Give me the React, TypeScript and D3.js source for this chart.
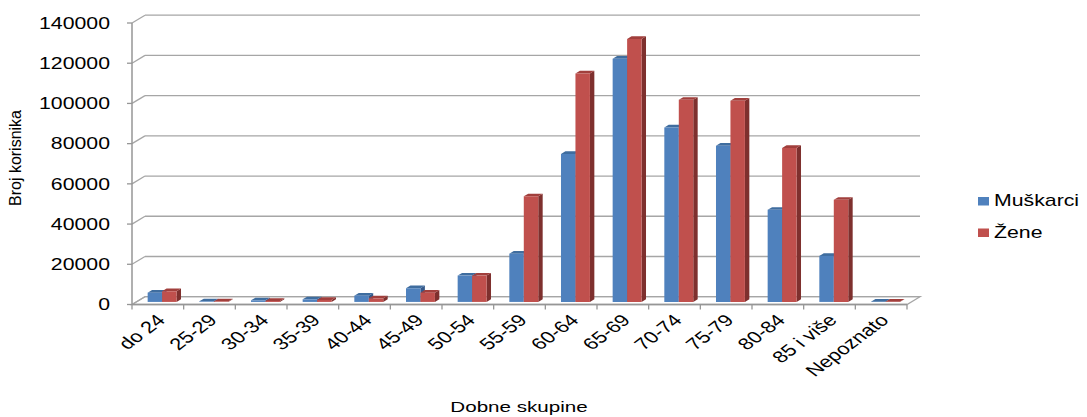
import React from "react";
import * as d3 from "d3";

const categories = ["do 24", "25-29", "30-34", "35-39", "40-44", "45-49", "50-54", "55-59", "60-64", "65-69", "70-74", "75-79", "80-84", "85 i više", "Nepoznato"];
const muskarci = [4600, 300, 800, 1300, 3100, 6800, 13100, 24000, 73600, 121000, 86800, 77700, 45800, 22900, 100];
const zene = [5300, 200, 500, 1000, 1800, 4600, 13100, 52500, 113600, 130800, 100500, 100100, 76600, 50800, 100];
const yTicks = [0, 20000, 40000, 60000, 80000, 100000, 120000, 140000];
const seriesNames = ["Muškarci", "Žene"];

const W = 1087, H = 417;
const DX = 13, DY = -7.8; // full depth vector
const T0 = 0.33, T1 = 0.67; // bar depth range
const SX = 1.33; // horizontal text stretch
const FONT = "'Liberation Sans', Arial, sans-serif";

const colors = [
  { front: "#4F81BD", top: "#3F6D9F", side: "#35598A" },
  { front: "#C0504D", top: "#A13F3C", side: "#7E302E" },
];

export default function App() {
  const x = d3.scaleBand<string>().domain(categories).range([132, 907]).paddingInner(0).paddingOuter(0);
  const bw = x.bandwidth();
  const x1 = d3.scaleBand<string>().domain(seriesNames).range([bw * 0.22, bw * 0.78]).padding(0);
  const y = d3.scaleLinear().domain([0, 140000]).range([304.5, 23]);
  const p = (px: number, v: number, t: number) => [px + t * DX, y(v) + t * DY];
  const pts = (arr: number[][]) => arr.map((a) => a.join(",")).join(" ");

  const x0 = x.range()[0], xEnd = x.range()[1];
  const grid = "#A6A6A6";
  const axis = "#969696";

  const bars: React.ReactNode[] = [];
  categories.forEach((c, i) => {
    [muskarci, zene].forEach((vals, s) => {
      const v = vals[i];
      const l = (x(c) as number) + (x1(seriesNames[s]) as number);
      const r = l + x1.bandwidth();
      const col = colors[s];
      const fl0 = p(l, 0, T0), fr0 = p(r, 0, T0), flv = p(l, v, T0), frv = p(r, v, T0);
      const blv = p(l, v, T1), brv = p(r, v, T1), br0 = p(r, 0, T1);
      bars.push(
        <g key={`${i}-${s}`}>
          <polygon points={pts([fr0, frv, brv, br0])} fill={col.side} />
          <polygon points={pts([flv, frv, brv, blv])} fill={col.top} />
          <polygon points={pts([fl0, fr0, frv, flv])} fill={col.front} />
        </g>
      );
    });
  });

  return (
    <svg width={W} height={H} style={{ position: "absolute", left: 0, top: 0, background: "#fff" }} fontFamily={FONT}>
      {/* floor */}
      <polygon
        points={pts([p(x0, 0, 0), p(xEnd, 0, 0), p(xEnd, 0, 1), p(x0, 0, 1)])}
        fill="#fff"
        stroke={grid}
        strokeWidth={1.3}
      />
      {/* gridlines back wall + side wall */}
      {yTicks.map((t) => {
        const a = p(x0, t, 0), b = p(x0, t, 1), e = p(xEnd, t, 1);
        return (
          <g key={t}>
            <line x1={a[0]} y1={a[1]} x2={b[0]} y2={b[1]} stroke={grid} strokeWidth={1.3} />
            <line x1={b[0]} y1={b[1]} x2={e[0]} y2={e[1]} stroke={grid} strokeWidth={1.3} />
            <line x1={a[0] - 5} y1={a[1]} x2={a[0]} y2={a[1]} stroke={axis} strokeWidth={1.3} />
            <text
              transform={`translate(110,${a[1]}) scale(${SX},1)`}
              textAnchor="end"
              dy="0.36em"
              fontSize={16}
              fill="#000"
            >
              {t}
            </text>
          </g>
        );
      })}
      {/* vertical axis */}
      <line x1={x0} y1={y(0)} x2={x0} y2={y(140000)} stroke={axis} strokeWidth={1.5} />
      {/* front floor edge */}
      <line x1={x0} y1={y(0)} x2={xEnd} y2={y(0)} stroke={axis} strokeWidth={1.5} />
      {/* category ticks */}
      {categories.concat([""]).map((c, i) => {
        const tx = x0 + i * bw;
        return <line key={i} x1={tx} y1={y(0)} x2={tx} y2={y(0) + 5} stroke={axis} strokeWidth={1.3} />;
      })}
      {bars}
      {/* category labels */}
      {categories.map((c) => {
        const cx = (x(c) as number) + bw / 2 + 3;
        return (
          <text
            key={c}
            transform={`translate(${cx},${317}) scale(${SX},1) rotate(-45)`}
            textAnchor="end"
            dy="0.36em"
            fontSize={16.5}
            fill="#000"
          >
            {c}
          </text>
        );
      })}
      {/* axis titles */}
      <text transform={`translate(519,412) scale(${SX},1)`} textAnchor="middle" fontSize={15.5} fill="#000">
        Dobne skupine
      </text>
      <text transform="translate(21,158) rotate(-90)" textAnchor="middle" fontSize={16} fill="#000">
        Broj korisnika
      </text>
      {/* legend */}
      {seriesNames.map((n, s) => (
        <g key={n} transform={`translate(978,${197 + s * 31.5})`}>
          <rect x={0} y={0} width={11} height={8.5} fill={colors[s].front} />
          <text transform={`translate(16,9) scale(${SX},1)`} fontSize={16} fill="#000">
            {n}
          </text>
        </g>
      ))}
    </svg>
  );
}
